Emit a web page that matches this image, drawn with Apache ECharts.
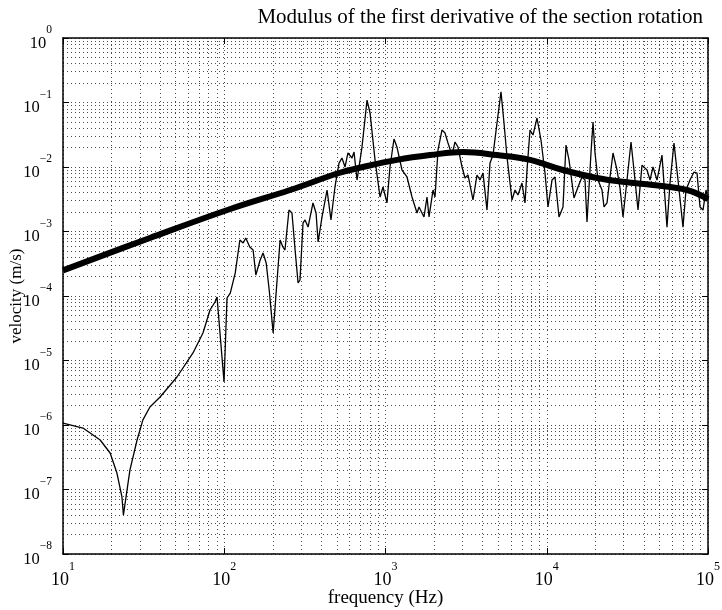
<!DOCTYPE html>
<html>
<head>
<meta charset="utf-8">
<script src="https://cdn.jsdelivr.net/npm/echarts@6/dist/echarts.min.js"></script>
<style>html,body{margin:0;padding:0;background:#fff}#c{width:722px;height:610px}</style>
</head>
<body>
<div id="c"></div>
<script>
// measured spectrum (thin line)
const freq = [10,13.3,17.0,19.6,21.6,23.2,23.7,24.6,26.0,28.8,
31.3,34.6,40.0,50.9,64.0,73.8,81.6,87.6,90.2,99.7,
104,109,117,125,131,136,144,151,157,167,
174,182,190,201,212,222,231,238,252,263,
275,287,295,308,317,331,355,371,382,404,
434,459,486,515,537,561,585,620,638,666,
715,768,802,861,925,965,1021,1066,1129,1178,
1266,1359,1460,1568,1614,1733,1809,1862,1971,2028,
2117,2241,2339,2441,2585,2698,2816,2982,3112,3248,
3488,3693,3855,4024,4261,4448,4642,4915,5203,5431,
5669,6088,6355,6633,7023,7331,7543,7873,8218,8700,
9211,9752,10180,10780,11250,11910,12610,13160,13740,14760,
15630,16550,17270,17770,18810,19360,19920,20790,22010,22650,
23640,24680,25760,27270,28470,29720,31460,33310,35260,36810,
38970,41850,43690,45600,48280,51840,55680,58120,61530,65160,
69980,73040,77330,81880,85480,89230,93110,97190,100000];
const velocity = [1.07e-6,8.97e-7,5.85e-7,3.68e-7,1.80e-7,7.66e-8,4.03e-8,7.66e-8,2.00e-7,5.85e-7,
1.20e-6,1.90e-6,2.72e-6,5.55e-6,1.31e-5,2.67e-5,6.07e-5,8.07e-5,9.64e-5,4.64e-6,
9.31e-5,1.11e-4,2.28e-4,7.38e-4,6.64e-4,7.93e-4,5.75e-4,5.16e-4,2.12e-4,3.61e-4,
4.64e-4,3.25e-4,1.24e-4,2.67e-5,1.59e-4,7.38e-4,5.75e-4,5.16e-4,2.15e-3,1.94e-3,
5.16e-4,1.59e-4,1.77e-4,1.36e-3,1.51e-3,1.17e-3,2.77e-3,1.94e-3,6.87e-4,1.68e-3,
4.40e-3,1.51e-3,4.90e-3,1.15e-2,1.38e-2,1.00e-2,1.65e-2,1.38e-2,1.71e-2,6.28e-3,
2.04e-2,1.09e-1,6.87e-2,1.29e-2,3.43e-3,4.90e-3,2.77e-3,1.00e-2,2.72e-2,2.04e-2,
8.98e-3,7.00e-3,3.43e-3,1.94e-3,2.40e-3,1.68e-3,3.43e-3,1.68e-3,4.40e-3,3.43e-3,
1.84e-2,3.75e-2,3.37e-2,2.36e-2,1.53e-2,2.44e-2,2.04e-2,1.00e-2,6.75e-3,7.52e-3,
3.08e-3,7.52e-3,6.28e-3,8.07e-3,2.15e-3,1.15e-2,1.53e-2,4.81e-2,1.46e-1,4.81e-2,
1.43e-2,3.08e-3,4.40e-3,3.68e-3,5.65e-3,2.77e-3,8.98e-3,3.75e-2,3.13e-2,5.75e-2,
2.62e-2,8.07e-3,2.40e-3,6.28e-3,7.00e-3,1.68e-3,2.40e-3,2.19e-2,1.29e-2,3.31e-3,
4.90e-3,7.00e-3,6.28e-3,1.40e-3,1.65e-2,4.99e-2,1.65e-2,6.28e-3,4.40e-3,2.40e-3,
2.77e-3,7.00e-3,1.65e-2,8.98e-3,4.72e-3,1.68e-3,6.28e-3,2.44e-2,6.28e-3,2.15e-3,
1.07e-2,8.98e-3,6.28e-3,1.00e-2,6.28e-3,1.53e-2,1.17e-3,5.65e-3,2.36e-2,6.28e-3,
1.17e-3,4.40e-3,6.28e-3,8.36e-3,8.07e-3,2.40e-3,2.15e-3,4.40e-3,3.08e-3];

// smoothed trend (thick line)
const smoothFreq = [10,34.6,109,256,515,725,1178,1888,3024,4915,7873,12610,20500,30580,45600,74100,100000];
const smoothVelocity = [2.5e-4,7.93e-4,2.23e-3,4.40e-3,8.07e-3,1.00e-2,1.29e-2,1.53e-2,1.71e-2,1.53e-2,1.29e-2,8.98e-3,6.75e-3,5.85e-3,5.26e-3,4.40e-3,3.19e-3];

// axis decades (exponents)
const xDecades = [1,2,3,4,5];
const yDecades = [-8,-7,-6,-5,-4,-3,-2,-1,0];

const FONT = 'Liberation Serif';
const sup = e => '{b|10}{s|' + (e < 0 ? '\u2212' + (-e) : e) + '}';
const fmt = v => sup(Math.round(Math.log10(v)));
const richX = {
  b: {fontSize: 18, fontFamily: FONT, color: '#000', lineHeight: 28, verticalAlign: 'bottom'},
  s: {fontSize: 12, fontFamily: FONT, color: '#000', lineHeight: 13, verticalAlign: 'top'}
};
const richY = {
  b: {fontSize: 16.5, fontFamily: FONT, color: '#000', lineHeight: 28, verticalAlign: 'bottom'},
  s: {fontSize: 11.5, fontFamily: FONT, color: '#000', lineHeight: 13, verticalAlign: 'top'}
};

// minor dotted grid lines (2..9 x 10^k)
const gridX = [], gridY = [];
for (let i = 0; i < xDecades.length - 1; i++)
  for (let m = 2; m <= 9; m++) gridX.push({xAxis: m * Math.pow(10, xDecades[i])});
for (let i = 0; i < yDecades.length - 1; i++)
  for (let m = 2; m <= 9; m++) gridY.push({yAxis: m * Math.pow(10, yDecades[i])});

const dotted = {type: [1, 3], color: '#000', width: 1, opacity: 0.7};
const xMin = Math.pow(10, xDecades[0]), xMax = Math.pow(10, xDecades[xDecades.length - 1]);
const yMin = Math.pow(10, yDecades[0]), yMax = Math.pow(10, yDecades[yDecades.length - 1]);

const chart = echarts.init(document.getElementById('c'), null, {renderer: 'canvas'});
chart.setOption({
  animation: false,
  backgroundColor: '#fff',
  title: {
    text: 'Modulus of the first derivative of the section rotation',
    right: 14, top: 2,
    textStyle: {fontFamily: FONT, fontSize: 21, fontWeight: 'normal', color: '#000'}
  },
  grid: {left: 63, right: 14, top: 38, bottom: 56, containLabel: false, outerBoundsMode: 'none'},
  xAxis: [{
    type: 'log', logBase: 10, min: xMin, max: xMax, splitNumber: 4,
    name: 'frequency (Hz)', nameLocation: 'middle', nameGap: 35, nameMoveOverlap: false,
    nameTextStyle: {fontFamily: FONT, fontSize: 19, color: '#000'},
    axisLine: {show: true, onZero: false, lineStyle: {color: '#000', width: 1.5}},
    axisTick: {show: true, inside: true, length: 6, lineStyle: {color: '#000'}},
    axisLabel: {formatter: fmt, rich: richX, margin: 7},
    splitLine: {show: true, lineStyle: dotted},
    minorTick: {show: false}
  }, {
    type: 'log', logBase: 10, min: xMin, max: xMax, splitNumber: 4, position: 'top',
    axisLine: {show: true, onZero: false, lineStyle: {color: '#000', width: 1.5}},
    axisTick: {show: true, inside: true, length: 6, lineStyle: {color: '#000'}},
    axisLabel: {show: false}, splitLine: {show: false}
  }],
  yAxis: [{
    type: 'log', logBase: 10, min: yMin, max: yMax, splitNumber: 8,
    name: 'velocity (m/s)', nameLocation: 'middle', nameGap: 38, nameMoveOverlap: false,
    nameTextStyle: {fontFamily: FONT, fontSize: 17, color: '#000'},
    axisLine: {show: true, onZero: false, lineStyle: {color: '#000', width: 1.5}},
    axisTick: {show: true, inside: true, length: 6, lineStyle: {color: '#000'}},
    axisLabel: {formatter: fmt, rich: richY, margin: 11},
    splitLine: {show: true, lineStyle: dotted}
  }, {
    type: 'log', logBase: 10, min: yMin, max: yMax, splitNumber: 8, position: 'right',
    axisLine: {show: true, onZero: false, lineStyle: {color: '#000', width: 1.5}},
    axisTick: {show: true, inside: true, length: 6, lineStyle: {color: '#000'}},
    axisLabel: {show: false}, splitLine: {show: false}
  }],
  series: [{
    type: 'line', name: 'grid', data: [], silent: true, z: 1,
    markLine: {
      silent: true, z: 1, precision: 12, symbol: ['none', 'none'], label: {show: false},
      lineStyle: dotted, animation: false,
      data: gridX.concat(gridY)
    }
  }, {
    type: 'line', name: 'measured', z: 3,
    data: freq.map((f, i) => [f, velocity[i]]),
    showSymbol: false, symbol: 'none',
    lineStyle: {color: '#000', width: 1.3}
  }, {
    type: 'line', name: 'smoothed', z: 4,
    data: smoothFreq.map((f, i) => [f, smoothVelocity[i]]),
    showSymbol: false, symbol: 'none', smooth: 0.4,
    lineStyle: {color: '#000', width: 6}
  }]
});
</script>
</body>
</html>
